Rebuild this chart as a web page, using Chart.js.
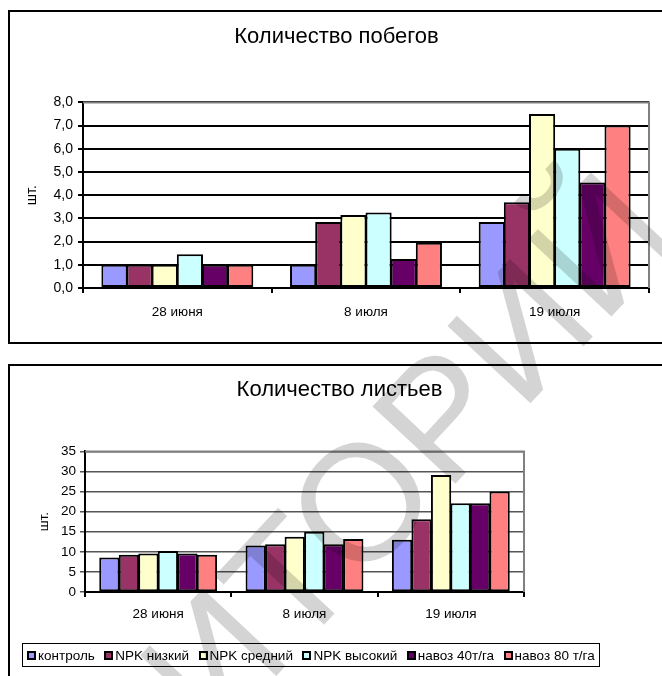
<!DOCTYPE html>
<html lang="ru">
<head>
<meta charset="utf-8">
<title>Количество побегов и листьев</title>
<script src="https://cdn.jsdelivr.net/npm/chart.js@4.4.1/dist/chart.umd.min.js"></script>
<style>
  html, body { margin: 0; padding: 0; background: #fff; overflow: hidden; }
  body { width: 662px; height: 676px; position: relative; font-family: "Liberation Sans", Arial, sans-serif; }
  .frame { position: absolute; border: 2px solid #000; box-sizing: border-box; }
  #frameTop { left: 8px; top: 10px; width: 700px; height: 334px; }
  #frameBottom { left: 8px; top: 364px; width: 700px; height: 400px; }
  canvas { position: absolute; left: 0; }
  #shoots { top: 0; }
  #leaves { top: 355px; }
  #legend {
    position: absolute; left: 22px; top: 643px; width: 578px; height: 24px;
    border: 1px solid #000; box-sizing: border-box; display: flex; align-items: center;
    padding-left: 4px; font-size: 13.5px; color: #000; white-space: nowrap;
  }
  #legend .item { display: flex; align-items: center; margin-right: 9.5px; }
  #legend .sw { width: 9px; height: 9px; border: 2px solid #000; box-sizing: border-box; margin-right: 2px; }
  #watermark {
    position: absolute; left: 214px; top: 660px; transform: translate(-50%, -50%) rotate(-47deg);
    font-size: 165px; line-height: 1; color: rgba(0, 0, 0, 0.17); white-space: nowrap;
    pointer-events: none; z-index: 5;
  }
</style>
</head>
<body>
<div class="frame" id="frameTop"></div>
<div class="frame" id="frameBottom"></div>
<canvas id="shoots" width="662" height="345"></canvas>
<canvas id="leaves" width="662" height="321"></canvas>
<div id="legend"></div>
<div id="watermark">РЕПОЗИТОРИЙ</div>

<script>
// dates and treatments
const dates = ['28 июня', '8 июля', '19 июля'];
const treatments = ['контроль', 'NPK низкий', 'NPK средний', 'NPK высокий', 'навоз 40т/га', 'навоз 80 т/га'];
const colors = ['#9999FF', '#993366', '#FFFFCC', '#CCFFFF', '#660066', '#FF8080'];

// number of shoots, pcs
const shootsControl = [1.0, 1.0, 2.85];
const shootsNpkLow = [1.0, 2.85, 3.7];
const shootsNpkMid = [1.0, 3.15, 7.5];
const shootsNpkHigh = [1.45, 3.25, 6.0];
const shootsManure40 = [1.0, 1.25, 4.55];
const shootsManure80 = [1.0, 1.95, 7.0];

// number of leaves, pcs
const leavesControl = [8.6, 11.6, 13.0];
const leavesNpkLow = [9.25, 11.9, 18.1];
const leavesNpkMid = [9.6, 13.75, 29.1];
const leavesNpkHigh = [10.2, 15.0, 22.1];
const leavesManure40 = [9.6, 11.9, 22.1];
const leavesManure80 = [9.25, 13.2, 25.0];

const shootsMax = 8;
const leavesMax = 35;

Chart.defaults.font.family = '"Liberation Sans", Arial, sans-serif';
Chart.defaults.color = '#000';

// gray frame on top and right of the plot area
const plotFrame = {
  id: 'plotFrame',
  beforeDatasetsDraw(chart, args, opts) {
    const a = chart.chartArea;
    const ctx = chart.ctx;
    ctx.save();
    ctx.strokeStyle = opts.color || '#808080';
    ctx.lineWidth = 2;
    ctx.beginPath();
    ctx.moveTo(a.left, a.top);
    ctx.lineTo(a.right, a.top);
    ctx.lineTo(a.right, a.bottom);
    ctx.stroke();
    ctx.restore();
  }
};

function makeSets(series) {
  return series.map((d, i) => ({
    label: treatments[i],
    data: d,
    backgroundColor: colors[i],
    borderColor: '#000',
    borderWidth: 2,
    borderSkipped: false,
    categoryPercentage: 0.8,
    barPercentage: 1.04
  }));
}

// top chart: shoots
new Chart(document.getElementById('shoots'), {
  type: 'bar',
  data: {
    labels: dates,
    datasets: makeSets([shootsControl, shootsNpkLow, shootsNpkMid, shootsNpkHigh, shootsManure40, shootsManure80])
  },
  plugins: [plotFrame],
  options: {
    responsive: false,
    animation: false,
    layout: { padding: { left: 24, right: 13, top: 0, bottom: 17 } },
    plugins: {
      legend: { display: false },
      tooltip: { enabled: false },
      plotFrame: { color: '#808080' },
      title: {
        display: true,
        text: 'Количество побегов',
        font: { size: 22, weight: 'normal' },
        color: '#000',
        padding: { top: 24, bottom: 52 }
      }
    },
    scales: {
      x: {
        grid: { drawOnChartArea: false, drawTicks: true, tickLength: 5, color: '#000', lineWidth: 2, offset: true },
        border: { color: '#000', width: 2 },
        ticks: { font: { size: 13.5 }, padding: 11, maxRotation: 0 },
        afterFit(s) { s.height = 40; }
      },
      y: {
        min: 0,
        max: shootsMax,
        grid: { color: '#000', lineWidth: 2, tickLength: 5 },
        border: { color: '#000', width: 2 },
        ticks: {
          stepSize: 1,
          padding: 5,
          font: { size: 14 },
          callback: v => v.toFixed(1).replace('.', ',')
        },
        title: { display: true, text: 'шт.', font: { size: 14 }, padding: { top: 0, bottom: 0 } },
        afterFit(s) { s.width = 59; }
      }
    }
  }
});

// bottom chart: leaves
new Chart(document.getElementById('leaves'), {
  type: 'bar',
  data: {
    labels: dates,
    datasets: makeSets([leavesControl, leavesNpkLow, leavesNpkMid, leavesNpkHigh, leavesManure40, leavesManure80])
  },
  plugins: [plotFrame],
  options: {
    responsive: false,
    animation: false,
    layout: { padding: { left: 17, right: 0, top: 0, bottom: 44 } },
    plugins: {
      legend: { display: false },
      tooltip: { enabled: false },
      plotFrame: { color: '#808080' },
      title: {
        display: true,
        text: 'Количество листьев',
        font: { size: 22, weight: 'normal' },
        color: '#000',
        padding: { top: 22, bottom: 48 }
      }
    },
    scales: {
      x: {
        grid: { drawOnChartArea: false, drawTicks: true, tickLength: 5, color: '#000', lineWidth: 2, offset: true },
        border: { color: '#000', width: 2 },
        ticks: { font: { size: 13.5 }, padding: 9, maxRotation: 0 },
        afterFit(s) { s.height = 40; }
      },
      y: {
        min: 0,
        max: leavesMax,
        grid: { color: '#555', lineWidth: 1.5, tickLength: 5 },
        border: { color: '#000', width: 2 },
        ticks: { stepSize: 5, padding: 4, font: { size: 13.5 } },
        title: { display: true, text: 'шт.', font: { size: 13.5 }, padding: { top: 19, bottom: 0 } },
        afterFit(s) { s.width = 68; }
      },
      // empty space to the right of the plot, as in the original sheet
      pad: {
        type: 'linear',
        position: 'right',
        display: true,
        grid: { display: false },
        border: { display: false },
        ticks: { display: false },
        afterFit(s) { s.width = 138; }
      }
    }
  }
});

// legend below the leaves chart
const legend = document.getElementById('legend');
treatments.forEach((name, i) => {
  const item = document.createElement('span');
  item.className = 'item';
  const sw = document.createElement('span');
  sw.className = 'sw';
  sw.style.background = colors[i];
  item.appendChild(sw);
  item.appendChild(document.createTextNode(name));
  legend.appendChild(item);
});
</script>
</body>
</html>
